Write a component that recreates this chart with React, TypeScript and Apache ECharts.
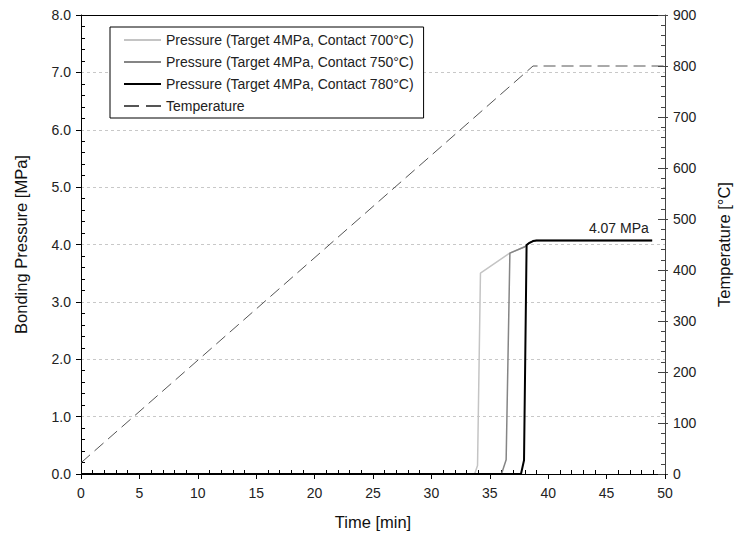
import React, { useEffect, useRef } from "react";
import * as echarts from "echarts";

// ---- data ----
const timeAxis = { min: 0, max: 50, interval: 5 };
const pressureAxis = { min: 0, max: 8, interval: 1 };
const temperatureAxis = { min: 0, max: 900, interval: 100 };

const seriesNames = [
  "Pressure (Target 4MPa, Contact 700°C)",
  "Pressure (Target 4MPa, Contact 750°C)",
  "Pressure (Target 4MPa, Contact 780°C)",
  "Temperature",
];

const pressure700: number[][] = [
  [0, 0], [33.7, 0], [33.95, 0.15], [34.2, 3.5], [36.7, 3.85], [38.0, 3.96],
  [38.4, 4.03], [38.7, 4.06], [39.0, 4.07], [48.9, 4.07],
];
const pressure750: number[][] = [
  [0, 0], [36.0, 0], [36.4, 0.25], [36.72, 3.85], [38.0, 3.96],
  [38.4, 4.03], [38.7, 4.06], [39.0, 4.07], [48.9, 4.07],
];
const pressure780: number[][] = [
  [0, 0], [37.67, 0], [37.93, 0.24], [38.15, 3.99], [38.4, 4.03],
  [38.7, 4.06], [39.0, 4.07], [48.9, 4.07],
];
const temperature: number[][] = [
  [0, 22], [38.7, 800], [50, 800],
];

const plateauValue = 4.07;
const plateauLabelAt = 46.05;

const FONT = "Liberation Sans, Arial, sans-serif";
const tempDash = [12, 6];
const legendDash = [15, 7];

export default function App() {
  const ref = useRef<HTMLDivElement>(null);

  useEffect(() => {
    if (!ref.current) return;
    const chart = echarts.init(ref.current, undefined, { renderer: "svg" });

    const labelStyle = { fontSize: 14, color: "#222", fontFamily: FONT };
    const nameStyle = { fontSize: 16.5, color: "#111", fontFamily: FONT };

    chart.setOption({
      animation: false,
      backgroundColor: "#fff",
      textStyle: { fontFamily: FONT },
      grid: {
        left: 81,
        right: 70,
        top: 15,
        bottom: 63,
        containLabel: false,
        outerBoundsMode: "none",
      },
      legend: {
        orient: "vertical",
        left: 110,
        top: 27,
        data: [
          { name: seriesNames[0] },
          { name: seriesNames[1] },
          { name: seriesNames[2] },
          { name: seriesNames[3], lineStyle: { type: legendDash } },
        ],
        itemWidth: 37,
        itemHeight: 14,
        itemGap: 8,
        padding: [6, 10, 5, 13],
        backgroundColor: "#fff",
        borderColor: "#000",
        borderWidth: 1,
        borderRadius: 0,
        itemStyle: { opacity: 0 },
        textStyle: { fontSize: 14, color: "#222", fontFamily: FONT },
      },
      xAxis: [
        {
          type: "value",
          ...timeAxis,
          position: "bottom",
          name: "Time [min]",
          nameLocation: "middle",
          nameGap: 39,
          nameTextStyle: nameStyle,
          axisLine: { show: true, onZero: false, lineStyle: { color: "#000", width: 1 } },
          axisTick: { show: true, inside: false, length: 5, lineStyle: { color: "#000" } },
          minorTick: { show: false },
          splitLine: { show: false },
          axisLabel: { ...labelStyle, margin: 12 },
        },
        {
          type: "value",
          ...timeAxis,
          position: "bottom",
          axisLine: { show: false, onZero: false },
          axisTick: { show: false, inside: true },
          minorTick: { show: true, splitNumber: 5, length: 4, lineStyle: { color: "#000" } },
          splitLine: { show: false },
          axisLabel: { show: false },
        },
        {
          type: "value",
          ...timeAxis,
          position: "top",
          axisLine: { show: true, onZero: false, lineStyle: { color: "#000", width: 1 } },
          axisTick: { show: false },
          splitLine: { show: false },
          axisLabel: { show: false },
        },
      ],
      yAxis: [
        {
          type: "value",
          ...pressureAxis,
          position: "left",
          name: "Bonding Pressure [MPa]",
          nameLocation: "middle",
          nameGap: 52,
          nameTextStyle: nameStyle,
          axisLine: { show: true, onZero: false, lineStyle: { color: "#000", width: 1 } },
          axisTick: { show: true, inside: false, length: 5, lineStyle: { color: "#000" } },
          splitLine: { show: true, lineStyle: { color: "#c8c8c8", type: [3, 3], width: 1 } },
          axisLabel: { ...labelStyle, margin: 10, formatter: (v: number) => v.toFixed(1) },
        },
        {
          type: "value",
          ...temperatureAxis,
          position: "right",
          name: "Temperature [°C]",
          nameLocation: "middle",
          nameGap: 50,
          nameTextStyle: nameStyle,
          axisLine: { show: true, onZero: false, lineStyle: { color: "#444", width: 1 } },
          axisTick: { show: true, inside: false, length: 3, lineStyle: { color: "#444" } },
          splitLine: { show: false },
          axisLabel: { ...labelStyle, margin: 8 },
        },
        {
          type: "value",
          ...pressureAxis,
          position: "left",
          axisLine: { show: false, onZero: false },
          axisTick: { show: false, inside: true },
          minorTick: { show: true, splitNumber: 5, length: 4, lineStyle: { color: "#000" } },
          splitLine: { show: false },
          axisLabel: { show: false },
        },
        {
          type: "value",
          ...temperatureAxis,
          position: "right",
          axisLine: { show: false, onZero: false },
          axisTick: { show: true, inside: true, length: 7, lineStyle: { color: "#444" } },
          minorTick: { show: true, splitNumber: 5, length: 4, lineStyle: { color: "#444" } },
          splitLine: { show: false },
          axisLabel: { show: false },
        },
      ],
      series: [
        {
          name: seriesNames[0],
          type: "line",
          data: pressure700,
          symbol: "none",
          color: "#c4c4c4",
          lineStyle: { color: "#c4c4c4", width: 1.5 },
        },
        {
          name: seriesNames[1],
          type: "line",
          data: pressure750,
          symbol: "none",
          color: "#858585",
          lineStyle: { color: "#858585", width: 1.5 },
        },
        {
          name: seriesNames[2],
          type: "line",
          data: pressure780,
          symbol: "none",
          color: "#000",
          lineStyle: { color: "#000", width: 2 },
          markPoint: {
            symbol: "circle",
            symbolSize: 0,
            itemStyle: { color: "rgba(0,0,0,0)" },
            label: {
              show: true,
              position: "inside",
              offset: [0, -12.5],
              formatter: () => `${plateauValue.toFixed(2)} MPa`,
              fontSize: 14,
              color: "#222",
              fontFamily: FONT,
            },
            data: [{ coord: [plateauLabelAt, plateauValue], value: plateauValue }],
          },
        },
        {
          name: seriesNames[3],
          type: "line",
          yAxisIndex: 1,
          data: temperature,
          symbol: "none",
          color: "#555",
          lineStyle: { color: "#555", width: 1, type: tempDash },
        },
      ],
    });

    return () => chart.dispose();
  }, []);

  return (
    <div
      ref={ref}
      style={{ position: "fixed", left: 0, top: 0, width: 735, height: 537 }}
    />
  );
}
